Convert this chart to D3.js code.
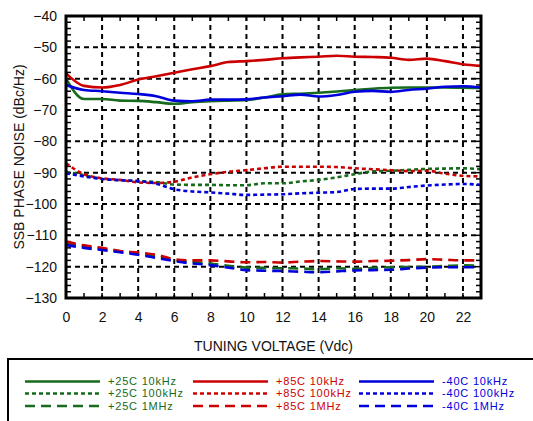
<!DOCTYPE html>
<html><head><meta charset="utf-8">
<script src="https://cdn.jsdelivr.net/npm/d3@7"></script>
<style>body{margin:0;background:#fff;}svg{display:block;font-family:"Liberation Sans",Arial,sans-serif;}</style>
</head><body>
<svg id="c" width="533" height="421"></svg>
<script>
const xVals = [0,1,2,3,4,5,6,7,8,9,10,11,12,13,14,15,16,17,18,19,20,21,22,23];
const g10k  = [-60,-66.5,-66.5,-67,-67.1,-67.5,-68,-67.5,-67.2,-67,-66.8,-66,-65,-64.8,-64.5,-64.1,-63.6,-63.2,-62.9,-62.8,-62.8,-62.8,-62.9,-63];
const r10k  = [-58.3,-62.3,-62.8,-62,-60.3,-59.2,-58.1,-57,-56,-54.7,-54.4,-54,-53.5,-53.2,-53,-52.7,-53,-53.1,-53.3,-54,-53.6,-54.4,-55.4,-55.9];
const b10k  = [-62,-63.6,-64,-64.5,-64.9,-65.6,-67,-67.2,-66.7,-66.7,-66.6,-66,-65.6,-65.1,-65.7,-65.2,-64.2,-63.9,-64.2,-63.6,-63.2,-62.6,-62.4,-62.8];
const g100k = [-89.7,-90.8,-92,-92.4,-92.7,-93,-93.8,-93.9,-93.9,-94,-94,-93.4,-93.4,-92.8,-92.3,-91.5,-90.5,-89.6,-89.4,-89.1,-88.8,-88.7,-88.6,-88.9];
const r100k = [-87,-90.5,-91.8,-92.3,-93.1,-93.3,-92.9,-91.5,-90.5,-89.7,-89.2,-88.6,-88.1,-88.1,-88.1,-88.2,-88.6,-88.9,-89.2,-89.5,-89.4,-90.3,-91,-91.2];
const b100k = [-90.2,-91.2,-92,-92.4,-92.7,-93.5,-95.3,-96,-96.3,-96.7,-97.1,-97,-96.9,-96.6,-96.4,-96.2,-95.2,-95.1,-95.1,-94.6,-94.1,-93.8,-93.6,-93.9];
const g1M   = [-112.5,-113.6,-114.4,-115.1,-115.8,-116.7,-118,-118.5,-119,-119.7,-120.3,-120.4,-120.5,-120.6,-120.8,-120.5,-120.7,-120.4,-120.2,-120.1,-120,-119.8,-119.6,-119.7];
const r1M   = [-112,-113.2,-114,-115,-115.5,-116.2,-117.6,-118,-118,-118.3,-118.6,-118.5,-118.7,-118.4,-118.2,-118.3,-118.4,-118.2,-118.1,-117.9,-117.6,-117.8,-118,-118];
const b1M   = [-113.1,-114,-114.7,-115.4,-116.2,-117.2,-118.2,-119,-119.5,-120.3,-121.1,-121.3,-121.4,-121.6,-121.8,-121.5,-121.2,-121.1,-121,-120.6,-120.3,-120.2,-120.2,-120.2];
const xTicks = [0,2,4,6,8,10,12,14,16,18,20,22];
const yTicks = [-40,-50,-60,-70,-80,-90,-100,-110,-120,-130];
const legendLabels = [["+25C 10kHz","+25C 100kHz","+25C 1MHz"],["+85C 10kHz","+85C 100kHz","+85C 1MHz"],["-40C 10kHz","-40C 100kHz","-40C 1MHz"]];
const colors = ["#166b1c","#cc0000","#0000dd"];
const dashes = [null,"4,3","10,6"];

const series = [
  {v:g10k,c:0,d:0},{v:g100k,c:0,d:1},{v:g1M,c:0,d:2},
  {v:r10k,c:1,d:0},{v:r100k,c:1,d:1},{v:r1M,c:1,d:2},
  {v:b10k,c:2,d:0},{v:b100k,c:2,d:1},{v:b1M,c:2,d:2}
];

const svg = d3.select("#c");
const L=66,R=481,T=16,B=298;
const x = d3.scaleLinear().domain([0,23]).range([L,R]);
const y = d3.scaleLinear().domain([-130,-40]).range([B,T]);

// grid
const grid = svg.append("g").attr("stroke","#000").attr("stroke-width",2).attr("stroke-dasharray","5,4");
xTicks.filter(t=>t>0).forEach(t=>grid.append("line").attr("x1",x(t)).attr("x2",x(t)).attr("y1",T).attr("y2",B));
yTicks.filter(t=>t>-130&&t<-40).forEach(t=>grid.append("line").attr("x1",L).attr("x2",R).attr("y1",y(t)).attr("y2",y(t)));

// minor ticks
const mt = svg.append("g").attr("stroke","#000").attr("stroke-width",1.5);
d3.range(1,23).forEach(t=>{
  mt.append("line").attr("x1",x(t)).attr("x2",x(t)).attr("y1",T).attr("y2",T+5);
  mt.append("line").attr("x1",x(t)).attr("x2",x(t)).attr("y1",B).attr("y2",B-5);
});
d3.range(-128,-40,2).forEach(t=>{
  mt.append("line").attr("x1",L).attr("x2",L+5).attr("y1",y(t)).attr("y2",y(t));
  mt.append("line").attr("x1",R).attr("x2",R-5).attr("y1",y(t)).attr("y2",y(t));
});

// lines
const line = d3.line().x((d,i)=>x(xVals[i])).y(d=>y(d)).curve(d3.curveMonotoneX);
series.forEach(s=>{
  svg.append("path").datum(s.v).attr("d",line).attr("fill","none")
    .attr("stroke",colors[s.c]).attr("stroke-width",2.6)
    .attr("stroke-dasharray",dashes[s.d]);
});

// frame
svg.append("rect").attr("x",L).attr("y",T).attr("width",R-L).attr("height",B-T)
  .attr("fill","none").attr("stroke","#000").attr("stroke-width",3);

// axes labels
const xAxis = d3.axisBottom(x).tickValues(xTicks).tickSize(0).tickPadding(14);
const gx = svg.append("g").attr("transform",`translate(0,${B})`).call(xAxis);
gx.select(".domain").remove();
gx.selectAll("text").attr("font-size",14).attr("fill","#111").attr("font-family","Liberation Sans, Arial, sans-serif");
const yAxis = d3.axisLeft(y).tickValues(yTicks).tickSize(0).tickPadding(9);
const gy = svg.append("g").attr("transform",`translate(${L},0)`).call(yAxis);
gy.select(".domain").remove();
gy.selectAll("text").attr("font-size",14).attr("fill","#111").attr("font-family","Liberation Sans, Arial, sans-serif");

svg.append("text").attr("x",(L+R)/2).attr("y",351).attr("text-anchor","middle")
  .attr("font-size",14).attr("fill","#111").text("TUNING VOLTAGE (Vdc)");
svg.append("text").attr("transform",`translate(24,${(T+B)/2}) rotate(-90)`).attr("text-anchor","middle")
  .attr("font-size",14).attr("fill","#111").text("SSB PHASE NOISE (dBc/Hz)");

// legend
svg.append("rect").attr("x",8).attr("y",359).attr("width",560).attr("height",100)
  .attr("fill","none").attr("stroke","#000").attr("stroke-width",2);
const colX = [25,193,359];
const rowY = [381.5,393.5,406];
const baseY = [385,397.3,409.5];
legendLabels.forEach((col,ci)=>{
  col.forEach((lab,ri)=>{
    svg.append("line").attr("x1",colX[ci]).attr("x2",colX[ci]+75).attr("y1",rowY[ri]).attr("y2",rowY[ri])
      .attr("stroke",colors[ci]).attr("stroke-width",2.6).attr("stroke-dasharray",dashes[ri]);
    svg.append("text").attr("x",colX[ci]+83).attr("y",baseY[ri]).attr("font-size",11)
      .attr("letter-spacing",0.8).attr("fill",colors[ci]).text(lab);
  });
});
</script>
</body></html>
